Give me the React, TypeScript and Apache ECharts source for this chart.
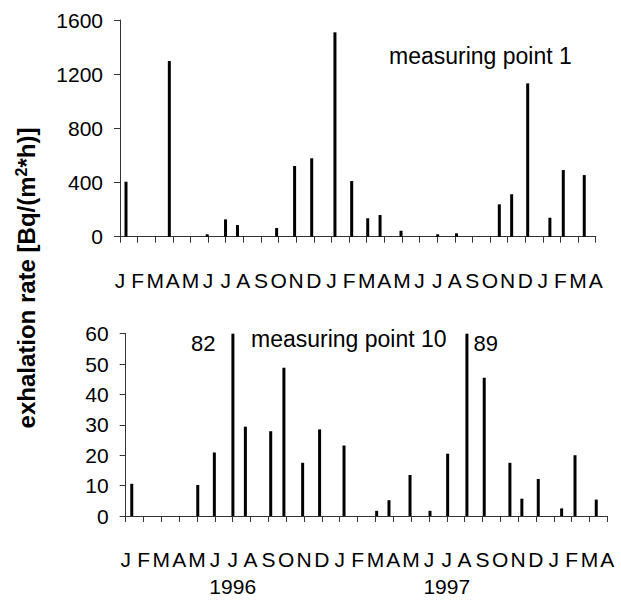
import React, { useEffect, useRef } from "react";
import * as echarts from "echarts";

// Month letters for the tick at the start of each month (Jan 1996 .. Apr 1998)
const monthLetters = [
  "J", "F", "M", "A", "M", "J", "J", "A", "S", "O", "N", "D",
  "J", "F", "M", "A", "M", "J", "J", "A", "S", "O", "N", "D",
  "J", "F", "M", "A",
];
// Year captions under the July ticks of the lower panel
const yearTicks = [6, 18];
const yearNames = ["1996", "1997"];

// Measuring point 1: time in months since 1 Jan 1996, exhalation rate
const mp1Months = [0.34, 2.8, 4.95, 5.99, 6.67, 8.89, 9.91, 10.88, 12.2, 13.15, 14.06, 14.76, 15.95, 18.03, 19.1, 21.53, 22.23, 23.14, 24.4, 25.16, 26.35];
const mp1Values = [406, 1297, 18, 128, 86, 64, 522, 579, 1509, 411, 136, 160, 44, 18, 25, 239, 313, 1132, 140, 492, 455];

// Measuring point 10
const mp10Months = [0.34, 4.04, 4.97, 6.01, 6.71, 8.13, 8.87, 9.92, 10.87, 12.24, 14.07, 14.76, 15.94, 17.06, 18.05, 19.13, 20.1, 21.54, 22.21, 23.13, 24.44, 25.19, 26.38];
const mp10Values = [10.6, 10.2, 20.9, 82, 29.4, 27.9, 48.8, 17.5, 28.5, 23.2, 1.7, 5.2, 13.5, 1.7, 20.5, 89, 45.5, 17.5, 5.7, 12.2, 2.5, 20.0, 5.4];

const mp1Ticks = [0, 400, 800, 1200, 1600];
const mp10Ticks = [0, 10, 20, 30, 40, 50, 60];
// side on which each off-scale value is written
const overflowSides = ["left", "right"];

const FONT = "'Liberation Sans', Arial, Helvetica, sans-serif";
const AXIS_COLOR = "#333";

export default function App() {
  const ref = useRef<HTMLDivElement>(null);

  useEffect(() => {
    if (!ref.current) return;
    const chart = echarts.init(ref.current, undefined, { renderer: "svg" });

    const mp10Max = mp10Ticks[mp10Ticks.length - 1];
    let overflowIdx = 0;
    const mp10Data = mp10Months.map((m, i) => {
      const v = mp10Values[i];
      if (v > mp10Max) {
        const side = overflowSides[overflowIdx++] || "right";
        return {
          value: [m, v],
          label: {
            show: true,
            position: side === "left" ? [-16, -1] : [8, -1],
            align: side === "left" ? "right" : "left",
            verticalAlign: "top",
            fontSize: 22,
            fontFamily: FONT,
            color: "#000",
            formatter: (p: any) => String(p.value[1]),
          },
        };
      }
      return { value: [m, v] };
    });

    const xAxisBase = (gridIndex: number, withYears: boolean) => ({
      type: "value",
      gridIndex,
      min: 0,
      max: monthLetters.length - 1,
      interval: 1,
      axisLine: { show: true, onZero: false, lineStyle: { color: AXIS_COLOR, width: 1 } },
      axisTick: { show: true, length: 6, lineStyle: { color: AXIS_COLOR, width: 1 } },
      splitLine: { show: false },
      axisLabel: {
        margin: 30,
        fontSize: 21,
        fontFamily: FONT,
        color: "#000",
        lineHeight: 27,
        showMinLabel: true,
        showMaxLabel: true,
        formatter: (v: number) => {
          const i = Math.round(v);
          const letter = monthLetters[i] || "";
          if (withYears) {
            const yi = yearTicks.indexOf(i);
            if (yi >= 0) return letter + "\n" + yearNames[yi];
          }
          return letter;
        },
      },
    });

    const yAxisBase = (gridIndex: number, ticks: number[]) => ({
      type: "value",
      gridIndex,
      min: ticks[0],
      max: ticks[ticks.length - 1],
      interval: ticks[1] - ticks[0],
      axisLine: { show: true, lineStyle: { color: AXIS_COLOR, width: 1 } },
      axisTick: { show: true, length: 6, lineStyle: { color: AXIS_COLOR, width: 1 } },
      splitLine: { show: false },
      axisLabel: {
        margin: 17,
        fontSize: 21,
        fontFamily: FONT,
        color: "#000",
        formatter: (v: number) => String(v),
      },
    });

    chart.setOption({
      animation: false,
      textStyle: { fontFamily: FONT },
      grid: [
        { left: 120, top: 20, width: 475.7, height: 216.7 },
        { left: 125.7, top: 333.7, width: 481.6, height: 188.6 },
      ],
      xAxis: [xAxisBase(0, false), xAxisBase(1, true)],
      yAxis: [yAxisBase(0, mp1Ticks), yAxisBase(1, mp10Ticks)],
      series: [
        {
          name: "measuring point 1",
          type: "bar",
          xAxisIndex: 0,
          yAxisIndex: 0,
          barWidth: 3,
          clip: true,
          itemStyle: { color: "#000" },
          data: mp1Months.map((m, i) => [m, mp1Values[i]]),
        },
        {
          name: "measuring point 10",
          type: "bar",
          xAxisIndex: 1,
          yAxisIndex: 1,
          barWidth: 3,
          clip: true,
          itemStyle: { color: "#000" },
          data: mp10Data,
        },
      ],
      graphic: [
        {
          type: "text",
          left: 389,
          top: 44,
          style: { text: "measuring point 1", fontSize: 23, fontFamily: FONT, fill: "#000" },
        },
        {
          type: "text",
          left: 251,
          top: 327,
          style: { text: "measuring point 10", fontSize: 23, fontFamily: FONT, fill: "#000" },
        },
        {
          type: "text",
          x: 26,
          y: 278,
          rotation: Math.PI / 2,
          style: {
            text: "{a|exhalation rate [Bq/(m}{s|2}{a|*h)]}",
            align: "center",
            verticalAlign: "middle",
            fill: "#000",
            rich: {
              a: { fontSize: 24, fontWeight: "bold", fontFamily: FONT, fill: "#000", lineHeight: 26 },
              s: { fontSize: 16, fontWeight: "bold", fontFamily: FONT, fill: "#000", verticalAlign: "top", lineHeight: 26 },
            },
          },
        },
      ],
    });

    return () => chart.dispose();
  }, []);

  return (
    <div
      ref={ref}
      style={{ position: "absolute", left: 0, top: 0, width: 621, height: 600 }}
    />
  );
}
